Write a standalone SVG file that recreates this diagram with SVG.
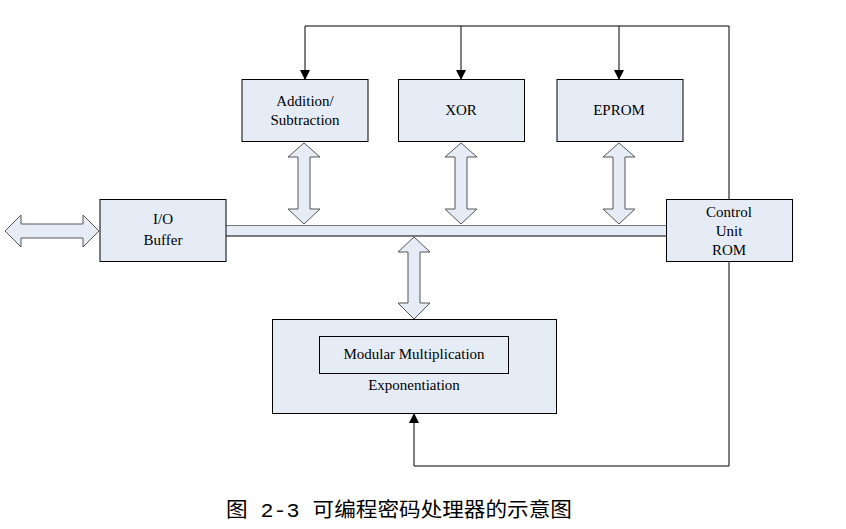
<svg xmlns="http://www.w3.org/2000/svg" width="846" height="529" viewBox="0 0 846 529">
<defs>
<marker id="ah" markerWidth="10" markerHeight="10" refX="9" refY="5" orient="auto" markerUnits="userSpaceOnUse">
<path d="M0,0 L10,5 L0,10 Z" fill="#000"/>
</marker>
<style>
.box{fill:#e6ecf6;stroke:#000;stroke-width:1}
text.t{font-family:'Liberation Serif','Times New Roman',serif;font-size:15px;fill:#000;text-anchor:middle}
.da{fill:#e6ecf6;stroke:#555;stroke-width:1}
.ln{fill:none;stroke:#000;stroke-width:1}
</style>
</defs>
<rect width="846" height="529" fill="#fff"/>
<g id="connectors">
<polyline class="ln" points="305,26 729,26 729,199"/>
<line class="ln" x1="305" y1="26" x2="305" y2="79" marker-end="url(#ah)"/>
<line class="ln" x1="461" y1="26" x2="461" y2="79" marker-end="url(#ah)"/>
<line class="ln" x1="619" y1="26" x2="619" y2="79" marker-end="url(#ah)"/>
<polyline class="ln" points="729,262 729,466 414,466 414,414" marker-end="url(#ah)"/>
<rect x="226" y="226" width="440" height="10" fill="#e6ecf6"/>
<line x1="226" y1="225.5" x2="666" y2="225.5" stroke="#777" stroke-width="1"/>
<line x1="226" y1="236" x2="666" y2="236" stroke="#000" stroke-width="1"/>
<path class="da" d="M5,231 L21,215 L21,224 L83,224 L83,215 L99,231 L83,247 L83,238 L21,238 L21,247 Z"/>
<path class="da" d="M304,143 L320,157 L310,157 L310,209 L320,209 L304,224 L288,209 L298,209 L298,157 L288,157 Z"/>
<path class="da" d="M461,143 L477,157 L467,157 L467,209 L477,209 L461,224 L445,209 L455,209 L455,157 L445,157 Z"/>
<path class="da" d="M619,143 L635,157 L625,157 L625,209 L635,209 L619,224 L603,209 L613,209 L613,157 L603,157 Z"/>
<path class="da" d="M414,237 L430,252 L420,252 L420,303 L430,303 L414,319 L398,303 L408,303 L408,252 L398,252 Z"/>
</g>
<g id="addsub">
<rect class="box" x="242" y="79.5" width="126" height="62"/>
<text class="t" font-family="Liberation Serif, serif" x="305" y="106">Addition/</text>
<text class="t" font-family="Liberation Serif, serif" x="305" y="125">Subtraction</text>
</g>
<g id="xor">
<rect class="box" x="398.5" y="79.5" width="126" height="62"/>
<text class="t" font-family="Liberation Serif, serif" x="461" y="115">XOR</text>
</g>
<g id="eprom">
<rect class="box" x="557" y="79.5" width="126" height="62"/>
<text class="t" font-family="Liberation Serif, serif" x="619" y="115">EPROM</text>
</g>
<g id="io">
<rect class="box" x="100" y="199.5" width="126" height="62"/>
<text class="t" font-family="Liberation Serif, serif" x="163" y="224">I/O</text>
<text class="t" font-family="Liberation Serif, serif" x="163" y="245">Buffer</text>
</g>
<g id="control">
<rect class="box" x="666.5" y="199.5" width="126" height="62"/>
<text class="t" font-family="Liberation Serif, serif" x="729" y="217">Control</text>
<text class="t" font-family="Liberation Serif, serif" x="729" y="236">Unit</text>
<text class="t" font-family="Liberation Serif, serif" x="729" y="255">ROM</text>
</g>
<g id="modexp">
<rect class="box" x="272.5" y="319.5" width="284" height="94"/>
<rect class="box" x="319.5" y="336.5" width="189" height="37"/>
<text class="t" font-family="Liberation Serif, serif" x="414" y="359">Modular Multiplication</text>
<text class="t" font-family="Liberation Serif, serif" x="414" y="390">Exponentiation</text>
</g>
<text x="399" y="517" font-family="Liberation Mono, Noto Sans CJK SC, monospace" font-size="20" text-anchor="middle" fill="#000" textLength="346" lengthAdjust="spacingAndGlyphs">图 2-3 可编程密码处理器的示意图</text>
</svg>
